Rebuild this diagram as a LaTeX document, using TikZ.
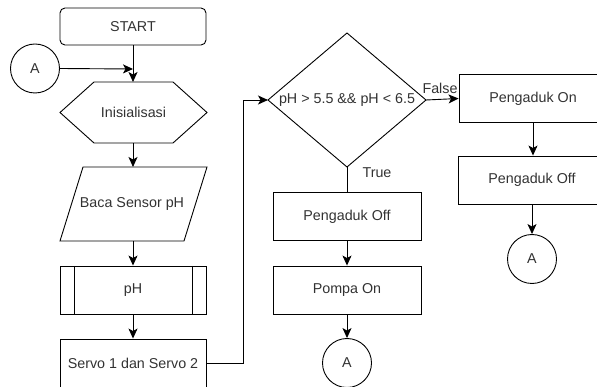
\documentclass[tikz,border=0pt]{standalone}
\usepackage{fontspec}
\setmainfont{Liberation Sans}
\usetikzlibrary{arrows.meta}
\definecolor{txtc}{RGB}{50,50,50}
\tikzset{
  base/.style={draw=black, line width=0.9pt, text=txtc, font=\fontsize{14.3}{16}\selectfont, inner sep=0pt},
  procbox/.style={base, rectangle, minimum width=148pt, minimum height=48pt},
  termbox/.style={base, rectangle, rounded corners=5pt, minimum width=146pt, minimum height=37pt},
  conn/.style={base, circle, minimum size=49pt},
  plain/.style={text=txtc, font=\fontsize{14.3}{16}\selectfont, inner sep=0pt},
  edge/.style={draw=black, line width=0.9pt},
  arr/.style={edge, -{Stealth[length=10pt,width=9pt,inset=2.5pt]}},
}
\begin{document}
\begin{tikzpicture}[x=1pt,y=-1pt]
\useasboundingbox (0,0) rectangle (597,387);
% left column
\node[termbox] (start) at (133,26.5) {START};
\node[conn] (a1) at (35,68.5) {A};
\node[plain] (init) at (133.5,112.5) {Inisialisasi};
\draw[edge] (60,112.5) -- (94,82) -- (173,82) -- (207,112.5) -- (173,143) -- (94,143) -- cycle;
\coordinate (inittop) at (133,82);
\coordinate (initbot) at (133,143);
\coordinate (join) at (133,69);
\node[plain] (baca) at (132,204) {Baca Sensor pH};
\draw[edge] (83,167) -- (207,167) -- (184,241) -- (60,241) -- cycle;
\coordinate (bacatop) at (133,167);
\coordinate (bacabot) at (133,241);
\node[procbox, minimum width=146pt] (ph) at (133,290) {pH};
\draw[edge] (74,266) -- (74,314) (192,266) -- (192,314);
\node[procbox, minimum width=146pt, minimum height=49pt] (servo) at (133,363.5) {Servo 1 dan Servo 2};
% decision
\node[plain] (dec) at (347,100) {pH > 5.5 \&\& pH < 6.5};
\draw[edge] (347,33) -- (426,100) -- (347,167) -- (268,100) -- cycle;
\coordinate (decL) at (268,100);
\coordinate (decR) at (426,100);
\coordinate (decB) at (347,167);
% middle column
\node[procbox] (poff) at (347,216.5) {Pengaduk Off};
\node[procbox] (pompa) at (347,290) {Pompa On};
\node[conn] (a2) at (347,363) {A};
% right column
\node[procbox] (pon) at (533,98.5) {Pengaduk On};
\node[procbox] (poff2) at (532,180) {Pengaduk Off};
\node[conn] (a3) at (532,259) {A};
% connectors
\draw[arr] (start.south) -- (inittop);
\draw[arr] (a1.east) -- (join);
\draw[arr] (initbot) -- (bacatop);
\draw[arr] (bacabot) -- (ph.north);
\draw[arr] (ph.south) -- (servo.north);
\draw[arr] (servo.east) -| (243,100) -- (decL);
\draw[edge] (decB) -- (poff.north);
\draw[arr] (poff.south) -- (pompa.north);
\draw[arr] (pompa.south) -- (a2.north);
\draw[arr] (decR) -- (pon.west);
\draw[arr] (pon.south) -- (poff2.north -| pon.south);
\draw[arr] (poff2.south) -- (a3.north);
\node[plain] (lt) at (377,173) {True};
\node[plain] (lf) at (440,88) {False};
\end{tikzpicture}
\end{document}
